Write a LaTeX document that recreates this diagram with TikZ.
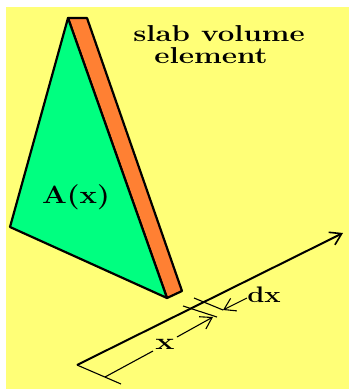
\documentclass[tikz,border=0pt]{standalone}
\usetikzlibrary{arrows.meta}
\definecolor{bgyellow}{HTML}{FFFF77}
\definecolor{facegreen}{HTML}{00FF80}
\definecolor{sideorange}{HTML}{FF8033}
\tikzset{
  face/.style={draw=black,line width=2.2pt,line join=round},
  axisline/.style={draw=black,line width=2pt,-{Straight Barb[length=11pt,width=14pt,line width=1.6pt]}},
  thin line/.style={draw=black,line width=1.1pt},
  dimarrow/.style={draw=black,line width=1.1pt,-{Straight Barb[length=11pt,width=14pt,line width=1.1pt]}},
  lab/.style={inner sep=0pt,font=\bfseries,text=black}
}
\begin{document}
\begin{tikzpicture}[x=1pt,y=-1pt]
\useasboundingbox (0,0) rectangle (349,389);
\fill[white] (0,0) rectangle (349,389);
\fill[bgyellow] (6,7) rectangle (349,389);
\coordinate (apex) at (68,18);
\coordinate (left) at (10,227);
\coordinate (bot) at (167,298);
\coordinate (tr) at (87,18);
\coordinate (br) at (182,291);
\filldraw[face,fill=sideorange] (apex) -- (tr) -- (br) -- (bot) -- cycle;
\filldraw[face,fill=facegreen] (apex) -- (left) -- (bot) -- cycle;
\coordinate (o) at (77,365);
\coordinate (e) at (343,233);
\draw[axisline] (o) -- (e);
\coordinate (t0) at (121,384);
\coordinate (t1a) at (183,306);
\coordinate (t1b) at (217,317);
\coordinate (t2a) at (194,298);
\coordinate (t2b) at (223,310);
\draw[thin line] (o) -- (t0);
\draw[thin line] (t1a) -- (t1b);
\draw[thin line] (t2a) -- (t2b);
\node[lab] (xl) at (165,344) {\scalebox{1.4}[1]{\fontsize{23}{23}\selectfont x}};
\coordinate (d0) at (105,377);
\coordinate (d1) at (213,317);
\coordinate (g0) at (153,351);
\coordinate (g1) at (177,337);
\draw[thin line] (d0) -- (g0);
\draw[dimarrow] (g1) -- (d1);
\coordinate (dxs) at (247,298);
\coordinate (dxe) at (223,310);
\draw[dimarrow] (dxs) -- (dxe);
\node[lab] (dx) at (264,295) {\scalebox{1.22}[1]{\fontsize{22.5}{22.5}\selectfont dx}};
\node[lab] (ax) at (76,197) {\scalebox{1.17}[1]{\fontsize{25}{25}\selectfont A(x)}};
\node[lab,anchor=base] (t1) at (219,41) {\scalebox{1.28}[1]{\fontsize{23}{23}\selectfont slab volume}};
\node[lab,anchor=base] (t2) at (211,63) {\scalebox{1.29}[1]{\fontsize{23}{23}\selectfont element}};
\end{tikzpicture}
\end{document}
